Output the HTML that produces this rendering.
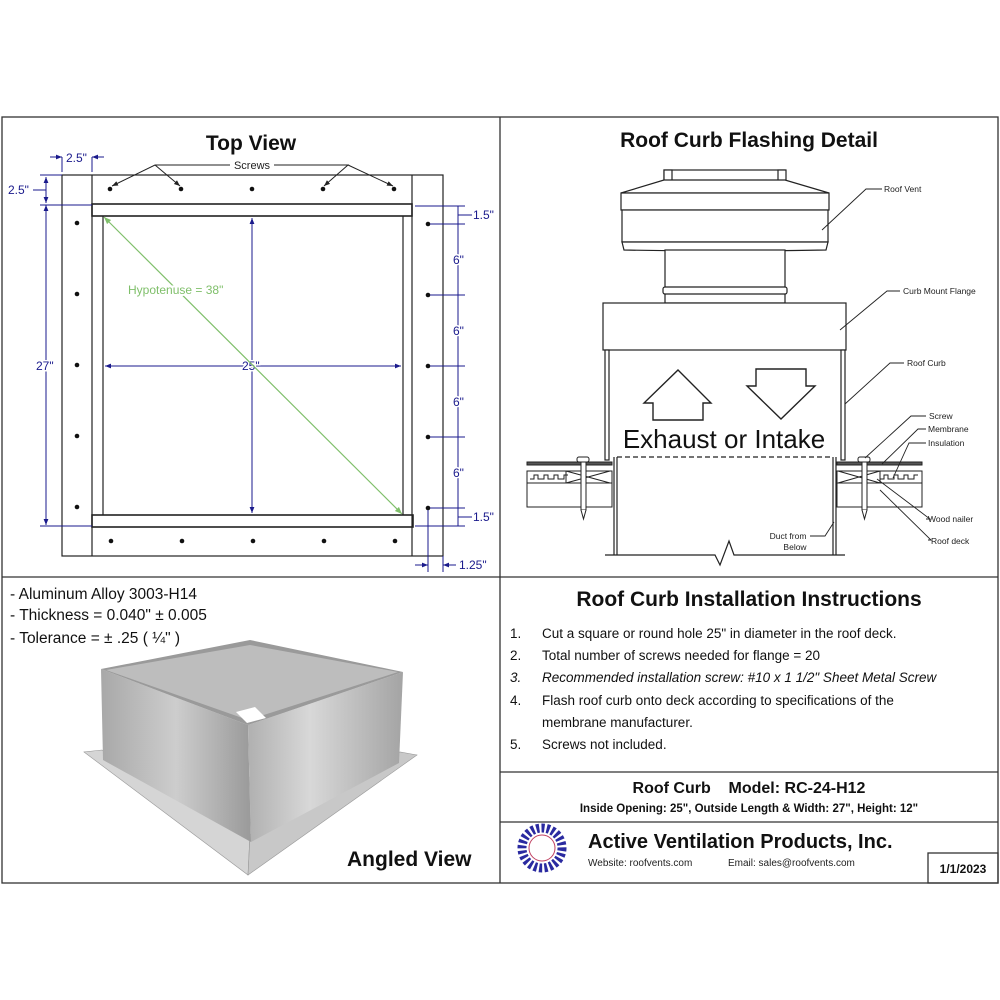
<!DOCTYPE html>
<html><head><meta charset="utf-8"><style>
html,body{margin:0;padding:0;background:#fff;}
svg{display:block;font-family:"Liberation Sans",Arial,sans-serif;}
</style></head><body>
<svg width="1000" height="1000" viewBox="0 0 1000 1000" xmlns="http://www.w3.org/2000/svg">
<defs>
<linearGradient id="gL" x1="0" y1="0" x2="1" y2="0"><stop offset="0" stop-color="#a8a8a8"/><stop offset="0.5" stop-color="#cdcdcd"/><stop offset="1" stop-color="#9a9a9a"/></linearGradient>
<linearGradient id="gR" x1="0" y1="0" x2="1" y2="0"><stop offset="0" stop-color="#b0b0b0"/><stop offset="0.4" stop-color="#d8d8d8"/><stop offset="1" stop-color="#a4a4a4"/></linearGradient>
<linearGradient id="gF" x1="0" y1="0" x2="1" y2="1"><stop offset="0" stop-color="#c8c8c8"/><stop offset="0.5" stop-color="#e6e6e6"/><stop offset="1" stop-color="#b5b5b5"/></linearGradient>
<marker id="ar" viewBox="0 0 10 10" refX="10" refY="5" markerWidth="6" markerHeight="6" orient="auto-start-reverse"><path d="M0,1 L10,5 L0,9z" fill="#1a1a8c"/></marker>
<marker id="ak" viewBox="0 0 10 10" refX="10" refY="5" markerWidth="6" markerHeight="6" orient="auto"><path d="M0,1 L10,5 L0,9z" fill="#222"/></marker>
<marker id="ag" viewBox="0 0 10 10" refX="10" refY="5" markerWidth="6" markerHeight="6" orient="auto-start-reverse"><path d="M0,1 L10,5 L0,9z" fill="#7fbf6a"/></marker>
</defs>

<g stroke="#333" stroke-width="1.3" fill="none">
<rect x="2" y="117" width="996" height="766"/>
<line x1="500" y1="117" x2="500" y2="883"/>
<line x1="2" y1="577" x2="998" y2="577"/>
<line x1="500" y1="772" x2="998" y2="772"/>
<line x1="500" y1="822" x2="998" y2="822"/>
<rect x="928" y="853" width="70" height="30"/>
</g>

<!-- TOP VIEW -->
<text x="251" y="150" font-size="21" font-weight="bold" text-anchor="middle" fill="#111">Top View</text>
<g stroke="#222" stroke-width="1.2" fill="none">
<rect x="62" y="175" width="381" height="381"/>
<line x1="92" y1="175" x2="92" y2="556"/>
<line x1="412" y1="175" x2="412" y2="556"/>
<rect x="92" y="204" width="320" height="12" stroke-width="1.6"/>
<rect x="92" y="515" width="321" height="12" stroke-width="1.6"/>
<line x1="103" y1="216" x2="103" y2="515"/>
<line x1="403" y1="216" x2="403" y2="515"/>
</g>
<g fill="#111">
<circle cx="110" cy="189" r="2.3"/><circle cx="181" cy="189" r="2.3"/><circle cx="252" cy="189" r="2.3"/><circle cx="323" cy="189" r="2.3"/><circle cx="394" cy="189" r="2.3"/>
<circle cx="111" cy="541" r="2.3"/><circle cx="182" cy="541" r="2.3"/><circle cx="253" cy="541" r="2.3"/><circle cx="324" cy="541" r="2.3"/><circle cx="395" cy="541" r="2.3"/>
<circle cx="77" cy="223" r="2.3"/><circle cx="77" cy="294" r="2.3"/><circle cx="77" cy="365" r="2.3"/><circle cx="77" cy="436" r="2.3"/><circle cx="77" cy="507" r="2.3"/>
<circle cx="428" cy="224" r="2.3"/><circle cx="428" cy="295" r="2.3"/><circle cx="428" cy="366" r="2.3"/><circle cx="428" cy="437" r="2.3"/><circle cx="428" cy="508" r="2.3"/>
</g>
<g stroke="#222" stroke-width="1" fill="none">
<polyline points="230,165 155,165 112,186" marker-end="url(#ak)"/>
<line x1="155" y1="165" x2="180" y2="186" marker-end="url(#ak)"/>
<polyline points="274,165 348,165 324,186" marker-end="url(#ak)"/>
<line x1="348" y1="165" x2="393" y2="186" marker-end="url(#ak)"/>
</g>
<text x="252" y="169" font-size="11" text-anchor="middle" fill="#222">Screws</text>
<g stroke="#1a1a8c" stroke-width="1" fill="none">
<line x1="62" y1="157" x2="62" y2="172"/><line x1="92" y1="157" x2="92" y2="172"/>
<line x1="50" y1="157" x2="62" y2="157" marker-end="url(#ar)"/><line x1="104" y1="157" x2="92" y2="157" marker-end="url(#ar)"/>
<line x1="40" y1="175" x2="62" y2="175"/><line x1="40" y1="205" x2="92" y2="205"/>
<line x1="46" y1="190" x2="46" y2="177" marker-end="url(#ar)"/>
<line x1="46" y1="190" x2="46" y2="203" marker-end="url(#ar)"/>
<line x1="33" y1="190" x2="46" y2="190"/>
<line x1="46" y1="205" x2="46" y2="525" marker-start="url(#ar)" marker-end="url(#ar)"/>
<line x1="40" y1="526" x2="92" y2="526"/>
<line x1="252" y1="218" x2="252" y2="513" marker-start="url(#ar)" marker-end="url(#ar)"/>
<line x1="105" y1="366" x2="401" y2="366" marker-start="url(#ar)" marker-end="url(#ar)"/>
<line x1="415" y1="206" x2="465" y2="206"/><line x1="430" y1="224" x2="465" y2="224"/>
<line x1="430" y1="295" x2="465" y2="295"/><line x1="430" y1="366" x2="465" y2="366"/>
<line x1="430" y1="437" x2="465" y2="437"/><line x1="430" y1="508" x2="465" y2="508"/>
<line x1="415" y1="526" x2="465" y2="526"/>
<line x1="458" y1="206" x2="458" y2="526"/>
<line x1="458" y1="215" x2="472" y2="215"/><line x1="458" y1="517" x2="472" y2="517"/>
<line x1="428" y1="510" x2="428" y2="572"/><line x1="443" y1="556" x2="443" y2="572"/>
<line x1="415" y1="565" x2="428" y2="565" marker-end="url(#ar)"/><line x1="456" y1="565" x2="443" y2="565" marker-end="url(#ar)"/>
</g>
<g fill="#1a1a8c" font-size="12" style="paint-order:stroke" stroke="#fff" stroke-width="3">
<text x="66" y="162">2.5"</text>
<text x="8" y="194">2.5"</text>
<text x="36" y="370">27"</text>
<text x="242" y="370">25"</text>
<text x="473" y="219">1.5"</text>
<text x="453" y="264">6"</text><text x="453" y="335">6"</text><text x="453" y="406">6"</text><text x="453" y="477">6"</text>
<text x="473" y="521">1.5"</text>
<text x="459" y="569">1.25"</text>
</g>
<line x1="104" y1="217" x2="402" y2="514" stroke="#7fbf6a" stroke-width="1.2" marker-start="url(#ag)" marker-end="url(#ag)"/>
<text x="128" y="294" font-size="12" fill="#7fbf6a" style="paint-order:stroke" stroke="#fff" stroke-width="4">Hypotenuse = 38"</text>

<!-- FLASHING DETAIL -->
<text x="749" y="147" font-size="21" font-weight="bold" text-anchor="middle" fill="#111">Roof Curb Flashing Detail</text>
<g stroke="#222" stroke-width="1.2" fill="#fff">
<rect x="664" y="170" width="121" height="12"/>
<rect x="664" y="170" width="8" height="12"/><rect x="778" y="170" width="8" height="12"/>
<polygon points="664,180 785,180 829,193 621,193"/>
<rect x="621" y="193" width="208" height="17"/>
<rect x="622" y="210" width="206" height="32"/>
<path d="M622,242 L828,242 L826,250 Q724,252 624,250 Z"/>
<rect x="665" y="250" width="120" height="53"/>
<rect x="663" y="287" width="124" height="7" rx="2"/>
<rect x="603" y="303" width="243" height="47"/>
<rect x="605" y="350" width="4" height="110"/>
<rect x="841" y="350" width="4" height="110"/>
<polygon points="678,370 711,403 703,403 703,420 653,420 653,403 644,403" stroke-width="1.4"/>
<polygon points="756,369 806,369 806,386 815,386 781,419 747,386 756,386" stroke-width="1.4"/>
</g>
<text x="724" y="448" font-size="26" text-anchor="middle" fill="#111">Exhaust or Intake</text>
<g stroke="#222" stroke-width="1" fill="#fff">
<rect x="527" y="462" width="85" height="3" fill="#555"/>
<rect x="527" y="471" width="85" height="12"/>
<rect x="527" y="483" width="85" height="24"/>
<rect x="837" y="462" width="85" height="3" fill="#555"/>
<rect x="837" y="471" width="85" height="12"/>
<rect x="837" y="483" width="85" height="24"/>
<path d="M530,479 h4 v-4 h4 v4 h6 v-4 h4 v4 h6 v-4 h4 v4 h6 v-4 h4"/>
<path d="M880,479 h4 v-4 h4 v4 h6 v-4 h4 v4 h6 v-4 h4 v4 h6 v-4 h4"/>
<path d="M566,471 L610,483 M566,483 L610,471 M566,471 V483"/>
<path d="M838,471 L880,483 M838,483 L880,471 M880,471 V483"/>
<rect x="581" y="462" width="5" height="48"/>
<path d="M581,510 L583.5,519 L586,510"/>
<rect x="577" y="457" width="12" height="5" rx="2"/>
<rect x="862" y="462" width="5" height="48"/>
<path d="M862,510 L864.5,519 L867,510"/>
<rect x="858" y="457" width="12" height="5" rx="2"/>
</g>
<g stroke="#222" stroke-width="1.2" fill="none">
<line x1="614" y1="457" x2="614" y2="555"/><line x1="617" y1="457" x2="617" y2="555"/>
<line x1="833" y1="457" x2="833" y2="555"/><line x1="836" y1="457" x2="836" y2="555"/>
<line x1="617" y1="457" x2="833" y2="457" stroke-dasharray="5,3"/>
<polyline points="605,555 715,555 720,565 729,541 734,555 845,555"/>
</g>
<g stroke="#222" stroke-width="0.9" fill="none">
<polyline points="822,230 866,189 882,189"/>
<polyline points="840,330 887,291 900,291"/>
<polyline points="845,404 890,363 904,363"/>
<polyline points="865,458 911,416 926,416"/>
<polyline points="882,464 918,429 926,429"/>
<polyline points="893,478 909,443 926,443"/>
<polyline points="877,479 930,519 926,519"/>
<polyline points="880,490 931,540 928,540"/>
<polyline points="834,522 825,536 810,536"/>
</g>
<g font-size="8.5" fill="#222">
<text x="884" y="192">Roof Vent</text>
<text x="903" y="294">Curb Mount Flange</text>
<text x="907" y="366">Roof Curb</text>
<text x="929" y="419">Screw</text>
<text x="928" y="432">Membrane</text>
<text x="928" y="446">Insulation</text>
<text x="928" y="522">Wood nailer</text>
<text x="931" y="544">Roof deck</text>
<text x="788" y="539" text-anchor="middle">Duct from</text>
<text x="795" y="550" text-anchor="middle">Below</text>
</g>

<!-- ANGLED VIEW -->
<g font-size="15.5" fill="#111">
<text x="10" y="599">- Aluminum Alloy 3003-H14</text>
<text x="10" y="620">- Thickness = 0.040" ± 0.005</text>
<text x="10" y="643">- Tolerance =  ± .25 ( ¼" )</text>
</g>
<polygon points="84,752 250,820 417,755 330,744 250,778 170,745" fill="url(#gF)" stroke="#999" stroke-width="0.6"/>
<polygon points="84,752 248,875 250,835 102,750" fill="#d5d5d5" stroke="#999" stroke-width="0.6"/>
<polygon points="417,755 248,875 250,835 400,752" fill="#c8c8c8" stroke="#999" stroke-width="0.6"/>
<polygon points="101,669 248,725 251,842 103,760" fill="url(#gL)"/>
<polygon points="248,725 403,672 399,763 251,842" fill="url(#gR)"/>
<polygon points="101,669 250,640 403,672 248,725" fill="#9a9a9a"/>
<polygon points="106,670 250,645 398,672 248,720" fill="#bdbdbd"/>
<polygon points="236,712 255,707 266,718 247,723" fill="#fff"/>
<text x="347" y="866" font-size="21" font-weight="bold" fill="#111">Angled View</text>

<!-- INSTRUCTIONS -->
<text x="749" y="606" font-size="21" font-weight="bold" text-anchor="middle" fill="#111">Roof Curb Installation Instructions</text>
<g font-size="13.5" fill="#111">
<text x="510" y="638">1.</text><text x="542" y="638">Cut a square or round hole 25" in diameter in the roof deck.</text>
<text x="510" y="660">2.</text><text x="542" y="660">Total number of screws needed for flange = 20</text>
<text x="510" y="682" font-style="italic">3.</text><text x="542" y="682" font-style="italic">Recommended installation screw: #10 x 1 1/2" Sheet Metal Screw</text>
<text x="510" y="705">4.</text><text x="542" y="705">Flash roof curb onto deck according to specifications of the</text>
<text x="542" y="727">membrane manufacturer.</text>
<text x="510" y="749">5.</text><text x="542" y="749">Screws not included.</text>
</g>
<text x="749" y="793" font-size="16" font-weight="bold" text-anchor="middle" fill="#111" xml:space="preserve">Roof Curb    Model: RC-24-H12</text>
<text x="749" y="812" font-size="11.5" font-weight="bold" text-anchor="middle" fill="#111">Inside Opening: 25",  Outside Length &amp; Width: 27",  Height: 12"</text>
<text x="588" y="848" font-size="20" font-weight="bold" fill="#111">Active Ventilation Products, Inc.</text>
<text x="588" y="866" font-size="10" fill="#222">Website:  roofvents.com</text>
<text x="728" y="866" font-size="10" fill="#222">Email:  sales@roofvents.com</text>
<text x="963" y="873" font-size="12" font-weight="bold" text-anchor="middle" fill="#111">1/1/2023</text>
<g transform="translate(542,848)">
<circle r="20" fill="none" stroke="#2a2aa0" stroke-width="9" stroke-dasharray="3,2.2"/>
<circle r="13" fill="#fff" stroke="#c04060" stroke-width="1"/>
</g>
</svg>
</body></html>
